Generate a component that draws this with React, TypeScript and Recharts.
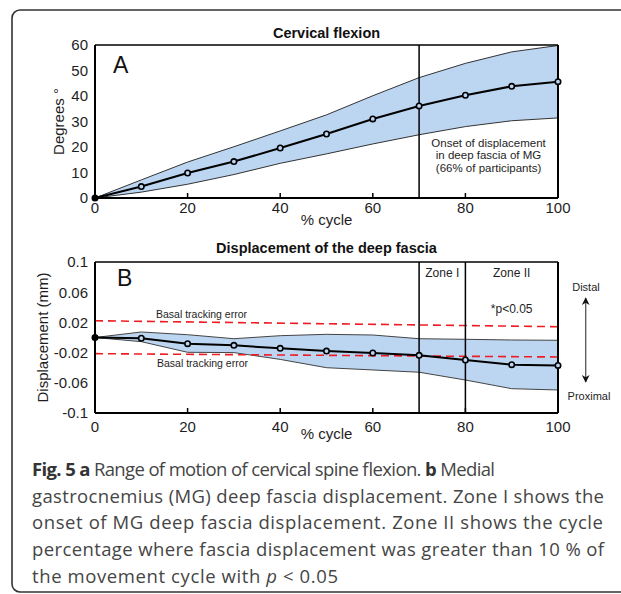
import React from "react";
import {
  ComposedChart,
  Area,
  Line,
  XAxis,
  YAxis,
  ReferenceLine,
  ReferenceArea,
  Label,
} from "recharts";

// % of movement cycle
const cycle = [0, 10, 20, 30, 40, 50, 60, 70, 80, 90, 100];

// A: cervical flexion (degrees)
const flexionMean = [0, 4.5, 9.8, 14.3, 19.6, 25.1, 31.0, 36.1, 40.3, 43.8, 45.6];
const flexionUpper = [0, 7.1, 14.1, 20.1, 26.3, 32.6, 40.1, 47.2, 52.8, 57.3, 59.8];
const flexionLower = [0, 2.3, 5.4, 9.2, 13.6, 17.3, 21.2, 24.8, 28.0, 30.3, 31.4];

// B: deep fascia displacement (mm)
const fasciaMean = [0, -0.001, -0.0082, -0.0104, -0.0143, -0.018, -0.0205, -0.0236, -0.0298, -0.036, -0.037];
const fasciaUpper = [0, 0.0073, 0.0037, -0.0016, 0.0024, 0.0042, 0.0033, -0.0016, -0.0024, -0.0033, -0.0037];
const fasciaLower = [0, -0.0055, -0.0196, -0.02, -0.029, -0.04, -0.043, -0.046, -0.0563, -0.0678, -0.0695];

// basal tracking error, at 0 % and 100 % of the cycle
const basalErrorUpper = [0.0222, 0.0143];
const basalErrorLower = [-0.0214, -0.0258];

const cycleTicks = [0, 20, 40, 60, 80, 100];
const flexionTicks = [0, 10, 20, 30, 40, 50, 60];
const fasciaTicks = [-0.1, -0.06, -0.02, 0.02, 0.06, 0.1];

const BAND = "#bcd5f1";
const INK = "#1e1e1e";
const RED = "#ee1c25";
const TICK = { fontSize: 15, fill: INK };

const flexionData = cycle.map((c, i) => ({
  cycle: c,
  mean: flexionMean[i],
  range: [flexionLower[i], flexionUpper[i]],
}));

const fasciaData = cycle.map((c, i) => ({
  cycle: c,
  mean: fasciaMean[i],
  range: [fasciaLower[i], fasciaUpper[i]],
}));

const lastCycle = cycle[cycle.length - 1];

function MeanDot(props: any) {
  const { cx, cy, index } = props;
  if (cx == null || cy == null) return null;
  return (
    <circle
      key={`dot-${index}`}
      cx={cx}
      cy={cy}
      r={2.7}
      stroke="#000"
      strokeWidth={1.6}
      fill={index === 0 ? "#000" : BAND}
    />
  );
}

function FlexionChart() {
  return (
    <ComposedChart
      width={621}
      height={232}
      data={flexionData}
      margin={{ top: 45, right: 63, bottom: 4, left: 0 }}
    >
      <XAxis
        dataKey="cycle"
        type="number"
        domain={[0, 100]}
        ticks={cycleTicks}
        height={30}
        tickSize={-5}
        tickMargin={9}
        axisLine={{ stroke: "#000", strokeWidth: 2 }}
        tickLine={{ stroke: "#000", strokeWidth: 1.5 }}
        tick={TICK}
      >
        <Label value="% cycle" position="insideBottom" offset={3} fontSize={15} fill={INK} />
      </XAxis>
      <YAxis
        domain={[0, 60]}
        ticks={flexionTicks}
        width={95}
        tickSize={5}
        tickMargin={2}
        tickLine={false}
        axisLine={{ stroke: "#000", strokeWidth: 2 }}
        tick={TICK}
      >
        <Label
          value="Degrees °"
          angle={-90}
          position="insideLeft"
          offset={59}
          fontSize={15}
          fill={INK}
          style={{ textAnchor: "middle" }}
        />
      </YAxis>
      <Area
        dataKey="range"
        type="linear"
        stroke="#333"
        strokeWidth={1}
        fill={BAND}
        fillOpacity={1}
        isAnimationActive={false}
        activeDot={false}
      />
      <ReferenceLine y={60} stroke="#000" strokeWidth={1.5} />
      <ReferenceLine x={100} stroke="#000" strokeWidth={2} />
      <ReferenceLine x={70} stroke="#000" strokeWidth={1.5} />
      <ReferenceArea x1={70} x2={100} y1={0} y2={60} fillOpacity={0} strokeOpacity={0}>
        <Label value="Onset of displacement" position="insideTop" offset={93.5} fontSize={11.5} fill={INK} />
        <Label value="in deep fascia of MG" position="insideTop" offset={106} fontSize={11.5} fill={INK} />
        <Label value="(66% of participants)" position="insideTop" offset={118.5} fontSize={11.5} fill={INK} />
      </ReferenceArea>
      <Line
        dataKey="mean"
        type="linear"
        stroke="#000"
        strokeWidth={2}
        dot={MeanDot}
        activeDot={false}
        isAnimationActive={false}
      />
    </ComposedChart>
  );
}

function FasciaChart() {
  return (
    <ComposedChart
      width={621}
      height={220}
      data={fasciaData}
      margin={{ top: 32, right: 63, bottom: 7, left: 0 }}
    >
      <XAxis
        dataKey="cycle"
        type="number"
        domain={[0, 100]}
        ticks={cycleTicks}
        height={30}
        tickSize={-5}
        tickMargin={13}
        axisLine={{ stroke: "#000", strokeWidth: 2 }}
        tickLine={{ stroke: "#000", strokeWidth: 1.5 }}
        tick={TICK}
      >
        <Label value="% cycle" position="insideBottom" offset={4.5} fontSize={15} fill={INK} />
      </XAxis>
      <YAxis
        domain={[-0.1, 0.1]}
        ticks={fasciaTicks}
        width={95}
        tickSize={5}
        tickMargin={2}
        tickLine={false}
        axisLine={{ stroke: "#000", strokeWidth: 2 }}
        tick={TICK}
        tickFormatter={(v: number) => String(v)}
      >
        <Label
          value="Displacement (mm)"
          angle={-90}
          position="insideLeft"
          offset={43}
          fontSize={15}
          fill={INK}
          style={{ textAnchor: "middle" }}
        />
      </YAxis>
      <Area
        dataKey="range"
        type="linear"
        stroke="#444"
        strokeWidth={1}
        fill={BAND}
        fillOpacity={1}
        isAnimationActive={false}
        activeDot={false}
      />
      <ReferenceLine
        segment={[
          { x: 0, y: basalErrorUpper[0] },
          { x: lastCycle, y: basalErrorUpper[1] },
        ]}
        stroke={RED}
        strokeWidth={1.6}
        strokeDasharray="8 5"
      />
      <ReferenceLine
        segment={[
          { x: 0, y: basalErrorLower[0] },
          { x: lastCycle, y: basalErrorLower[1] },
        ]}
        stroke={RED}
        strokeWidth={1.6}
        strokeDasharray="8 5"
      />
      <ReferenceLine y={0.1} stroke="#000" strokeWidth={1.5} />
      <ReferenceLine x={100} stroke="#000" strokeWidth={2} />
      <ReferenceLine x={70} stroke="#000" strokeWidth={1.5} />
      <ReferenceLine x={80} stroke="#000" strokeWidth={1.5} />
      <ReferenceArea x1={70} x2={80} y1={-0.1} y2={0.1} fillOpacity={0} strokeOpacity={0}>
        <Label value="Zone I" position="insideTop" offset={6.5} fontSize={12} fill={INK} />
      </ReferenceArea>
      <ReferenceArea x1={80} x2={100} y1={-0.1} y2={0.1} fillOpacity={0} strokeOpacity={0}>
        <Label value="Zone II" position="insideTop" offset={6.5} fontSize={12} fill={INK} />
        <Label value="*p<0.05" position="insideTop" offset={42.5} fontSize={12} fill={INK} />
      </ReferenceArea>
      <Line
        dataKey="mean"
        type="linear"
        stroke="#000"
        strokeWidth={2}
        dot={MeanDot}
        activeDot={false}
        isAnimationActive={false}
      />
    </ComposedChart>
  );
}

const CAPTION_FONT = "'Open Sans', 'Noto Sans', sans-serif";
const CAPTION_FILL = "#454545";

export default function App() {
  return (
    <div
      style={{
        position: "absolute",
        left: 0,
        top: 0,
        width: 621,
        height: 594,
        background: "#fff",
        overflow: "hidden",
        fontFamily: "'Liberation Sans', Arial, sans-serif",
      }}
    >
      <div style={{ position: "absolute", left: 0, top: 0 }}>
        <FlexionChart />
      </div>
      <div style={{ position: "absolute", left: 0, top: 230 }}>
        <FasciaChart />
      </div>

      <svg
        width={621}
        height={594}
        style={{ position: "absolute", left: 0, top: 0, pointerEvents: "none" }}
      >
        <defs>
          <marker id="head" viewBox="0 0 10 10" refX="9" refY="5" markerWidth="6" markerHeight="8" orient="auto-start-reverse">
            <path d="M0,0 L10,5 L0,10 L3,5 z" fill="#111" />
          </marker>
        </defs>
        <rect x={12} y={10} width={700} height={582} rx={8} fill="none" stroke="#333" strokeWidth={1.6} />

        <text x={326.5} y={38} textAnchor="middle" fontWeight="bold" fontSize={14.5} fill="#111">
          Cervical flexion
        </text>
        <text x={326.5} y={253} textAnchor="middle" fontWeight="bold" fontSize={14.5} fill="#111">
          Displacement of the deep fascia
        </text>
        <text x={113} y={73} fontSize={23} fill="#111">A</text>
        <text x={117} y={286} fontSize={23} fill="#111">B</text>

        <text x={156} y={317.5} fontSize={10.5} fill={INK}>Basal tracking error</text>
        <text x={157} y={366.5} fontSize={10.5} fill={INK}>Basal tracking error</text>

        <text x={586} y={291} textAnchor="middle" fontSize={11} fill={INK}>Distal</text>
        <text x={589} y={400} textAnchor="middle" fontSize={11} fill={INK}>Proximal</text>
        <line
          x1={585.7}
          y1={298}
          x2={585.7}
          y2={382}
          stroke="#555"
          strokeWidth={1.3}
          markerStart="url(#head)"
          markerEnd="url(#head)"
        />

        <g fontFamily={CAPTION_FONT} fontSize={18.5} fill={CAPTION_FILL}>
          <text x={32} y={476} textLength={463} lengthAdjust="spacing">
            <tspan fontWeight="bold" fill="#333">Fig. 5 a</tspan> Range of motion of cervical spine flexion.{" "}
            <tspan fontWeight="bold" fill="#333">b</tspan> Medial
          </text>
          <text x={32} y={502.7} textLength={572} lengthAdjust="spacing">
            gastrocnemius (MG) deep fascia displacement. Zone I shows the
          </text>
          <text x={32} y={529.3} textLength={571} lengthAdjust="spacing">
            onset of MG deep fascia displacement. Zone II shows the cycle
          </text>
          <text x={32} y={556} textLength={572} lengthAdjust="spacing">
            percentage where fascia displacement was greater than 10 % of
          </text>
          <text x={32} y={582.7} textLength={306} lengthAdjust="spacing">
            the movement cycle with <tspan fontStyle="italic">p</tspan> &lt; 0.05
          </text>
        </g>
      </svg>
    </div>
  );
}
